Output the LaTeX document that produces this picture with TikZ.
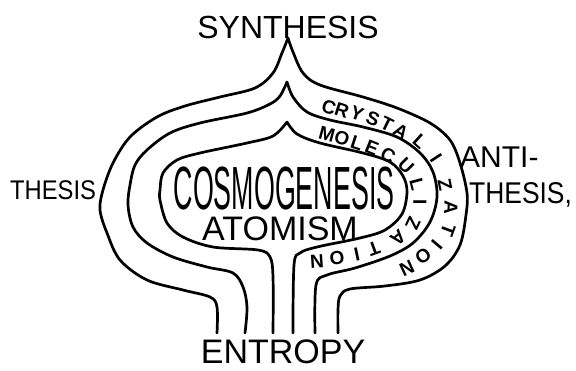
\documentclass[tikz,border=0pt]{standalone}
\usepackage{fontspec}
\usepackage{graphicx}
\setmainfont{Liberation Sans}
\newcommand\ringfont{\bfseries\fontsize{19}{19}\selectfont}
\begin{document}
\begin{tikzpicture}[x=1pt,y=-1pt,
  loopline/.style={draw=black, line width=2.7pt, line cap=round, line join=round},
  ringletter/.style={inner sep=0pt, anchor=center, font=\ringfont, text=black},
  lbl/.style={anchor=base, inner sep=0pt, text=black}]
\useasboundingbox (0,0) rectangle (576,370);
\fill[white] (0,0) rectangle (576,370);

% outer loop
\draw[loopline] plot[smooth, tension=0.55] coordinates {(217,333) (217,307) (210,297) (183,290) (147,280) (120,260) (107,233) (100,210) (103,190) (113,163) (130,137) (157,117) (185,106) (220,97) (255,88) (273,73) (282,53) (288,38)};
\draw[loopline] plot[smooth, tension=0.55] coordinates {(288,38) (293,52) (303,73) (320,85) (363,97) (397,108) (430,123) (450,140) (460,163) (467,193) (466,215) (460,245) (445,266) (420,280) (385,286) (350,289) (340,296) (338,310) (338,333)};

% middle loop
\draw[loopline] plot[smooth, tension=0.55] coordinates {(245,333) (247,307) (243,287) (233,273) (207,267) (173,257) (147,243) (133,227) (128,205) (130,185) (135,165) (147,150) (170,133) (200,123) (247,113) (270,104) (280,96) (287,82)};
\draw[loopline] plot[smooth, tension=0.55] coordinates {(287,82) (293,97) (307,112) (330,120) (363,127) (397,137) (420,153) (433,172) (437,197) (430,222) (413,243) (390,256) (355,268) (327,275) (316,285) (315,333)};

% inner loop
\draw[loopline] plot[smooth, tension=0.55] coordinates {(273,333) (273,277) (270,257) (258,250) (213,247) (183,237) (167,223) (160,200) (160,190) (163,173) (177,160) (200,153) (247,143) (273,136) (287,122)};
\draw[loopline] plot[smooth, tension=0.55] coordinates {(287,122) (297,134) (320,143) (363,153) (390,162) (403,176) (407,192) (402,214) (385,230) (360,238) (317,247) (300,253) (294,265) (293,333)};

% ring text: CRYSTALIZATION
\foreach \ch/\px/\py/\ang [count=\i] in {C/329/107/-18, R/342/110/-18, Y/357/114/-20, S/373/119/-22, T/387/124/-26, A/401/132/-32, L/420/142/-42, I/436/158/-57, Z/445/185/-78, A/451/208/-92, T/448/230/-110, I/437/245/-130, O/423/256/-145, N/407/268/-155}
  \node[ringletter, rotate=\ang] (cr\i) at (\px,\py) {\ch};

% ring text: MOLECULIZATION
\foreach \ch/\px/\py/\ang [count=\i] in {M/327/134/-15, O/342/138/-16, L/357/143/-18, E/372/148/-22, C/388/155/-30, U/406/166/-45, L/417/184/-75, I/420/202/-90, Z/413/224/-115, A/398/238/-140, T/374/249/-160, I/357/254/-168, O/337/258/-172, N/317/261/-176}
  \node[ringletter, rotate=\ang] (mo\i) at (\px,\py) {\ch};

% labels
\node[lbl] (synth) at (288,38) {\fontsize{32}{32}\selectfont SYNTHESIS};
\node[lbl] (entropy) at (283,363) {\fontsize{34}{34}\selectfont ENTROPY};
\node[lbl, anchor=base west] (thesis) at (10,199) {\scalebox{0.88}[1]{\fontsize{27}{27}\selectfont THESIS}};
\node[lbl, anchor=base west] (anti) at (460,167) {\fontsize{30}{30}\selectfont ANTI-};
\node[lbl, anchor=base west] (antithesis) at (469,203) {\scalebox{0.88}[1]{\fontsize{30}{30}\selectfont THESIS,}};
\node[lbl] (cosmo) at (284,209) {\scalebox{0.44}[1]{\fontsize{61}{61}\selectfont COSMOGENESIS}};
\node[lbl] (atom) at (280,240) {\fontsize{34}{34}\selectfont ATOMISM};
\end{tikzpicture}
\end{document}
